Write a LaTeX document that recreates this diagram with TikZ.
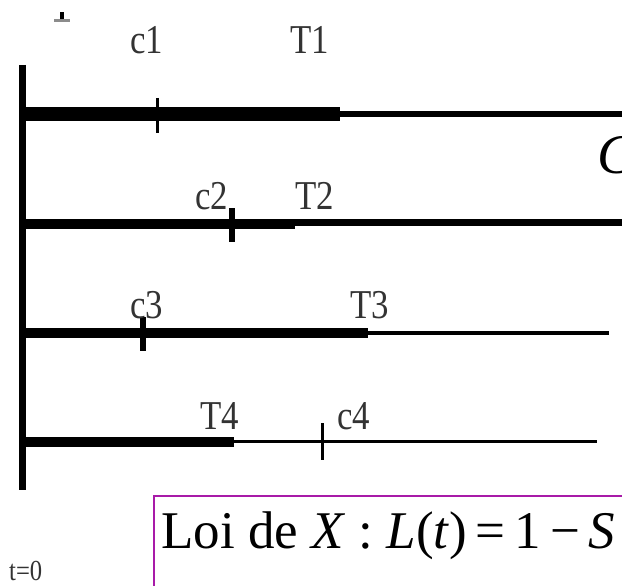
\documentclass[tikz,border=0pt]{standalone}
\usepackage{fontspec}
\setmainfont{Liberation Serif}
\newcommand\condlab[1]{\scalebox{0.85}[1]{#1}}
\definecolor{boxmag}{HTML}{A81AA8}
\begin{document}
\begin{tikzpicture}[x=1pt,y=-1pt,
  lbl/.style={font=\fontsize{41}{44}\selectfont, text=black!80, inner sep=0pt, anchor=base west},
  thickseg/.style={line width=10pt, line cap=butt},
  thinseg/.style={line width=#1, line cap=butt},
  tickseg/.style={line width=#1, line cap=butt}]
\useasboundingbox (0,0) rectangle (622,586);
\clip (0,0) rectangle (622,586);
% small mark at top
\fill[black!45] (54,19) rectangle (70,22);
\fill[black] (60,12) rectangle (64,19);
% vertical axis
\coordinate (axT) at (22.5,65);
\coordinate (axB) at (22.5,490);
\draw[line width=6.5pt] (axT) -- (axB);
% line 1
\coordinate (s1) at (22.5,114);
\coordinate (t1) at (340,114);
\coordinate (e1) at (640,114);
\draw[thickseg, line width=14pt] (s1) -- (t1);
\draw[thinseg=6pt] (t1) -- (e1);
\coordinate (k1a) at (157,98); \coordinate (k1b) at (157,133);
\draw[tickseg=3pt] (k1a) -- (k1b);
% line 2
\coordinate (s2) at (22.5,224);
\coordinate (t2) at (295,224);
\coordinate (t2b) at (295,222.5);
\coordinate (e2) at (640,222.5);
\draw[thickseg] (s2) -- (t2);
\draw[thinseg=7pt] (t2b) -- (e2);
\coordinate (k2a) at (232,208); \coordinate (k2b) at (232,242);
\draw[tickseg=6pt] (k2a) -- (k2b);
% line 3
\coordinate (s3) at (22.5,333);
\coordinate (t3) at (368,333);
\coordinate (e3) at (609,333);
\draw[thickseg] (s3) -- (t3);
\draw[thinseg=4pt] (t3) -- (e3);
\coordinate (k3a) at (143,317); \coordinate (k3b) at (143,351);
\draw[tickseg=6pt] (k3a) -- (k3b);
% line 4
\coordinate (s4) at (22.5,442);
\coordinate (t4) at (234,442);
\coordinate (t4b) at (234,441.5);
\coordinate (e4) at (597,441.5);
\draw[thickseg] (s4) -- (t4);
\draw[thinseg=3.5pt] (t4b) -- (e4);
\coordinate (k4a) at (322,423); \coordinate (k4b) at (322,460);
\draw[tickseg=3pt] (k4a) -- (k4b);
% labels
\node[lbl] (c1) at (130,54) {\condlab{c1}};
\node[lbl] (T1) at (290,54) {\condlab{T1}};
\node[lbl] (c2) at (195,209) {\condlab{c2}};
\node[lbl] (T2) at (295,209) {\condlab{T2}};
\node[lbl] (c3) at (130,318) {\condlab{c3}};
\node[lbl] (T3) at (350,318) {\condlab{T3}};
\node[lbl] (T4) at (200,429) {\condlab{T4}};
\node[lbl] (c4) at (337,429) {\condlab{c4}};
\node[lbl, font=\fontsize{29}{32}\selectfont] (t0) at (9,580) {\condlab{t=0}};
% C at right
\node[inner sep=0pt, anchor=base west, font=\fontsize{56}{60}\selectfont\itshape] (C) at (597,173) {C};
% box
\coordinate (bxL) at (154,640);
\coordinate (bxTL) at (154,496);
\coordinate (bxR) at (640,496);
\draw[boxmag, line width=1.8pt] (bxL) -- (bxTL) -- (bxR);
\node[inner sep=0pt, anchor=base west, font=\fontsize{53}{58}\selectfont] (loi) at (161,548)
  {Loi de \textit{X} : \textit{L}(\textit{t})\,=\,1\,−\,\textit{S}};
\end{tikzpicture}
\end{document}
